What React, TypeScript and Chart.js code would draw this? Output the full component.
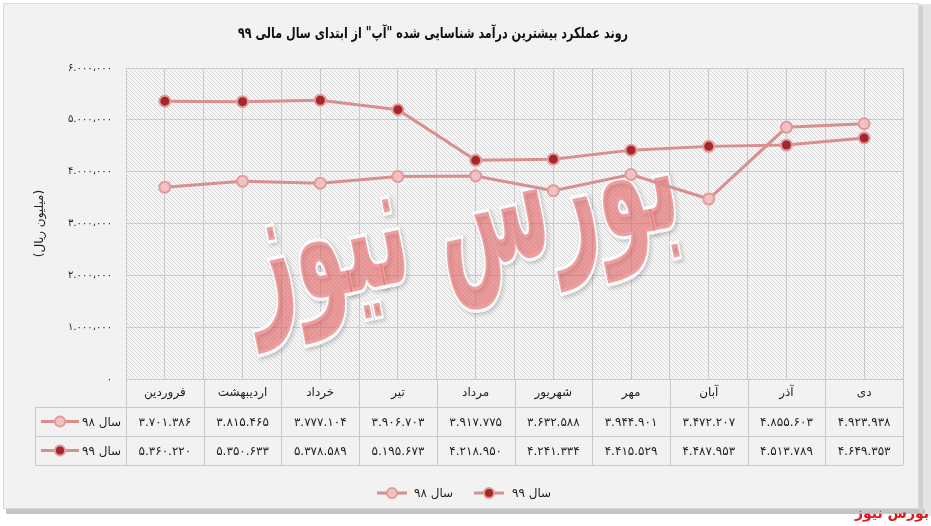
import React, { useEffect, useRef } from 'react';
import { Chart, registerables } from 'chart.js';

Chart.register(...registerables);

const categories = ['فروردین', 'اردیبهشت', 'خرداد', 'تیر', 'مرداد', 'شهریور', 'مهر', 'آبان', 'آذر', 'دی'];
const series98 = [3701386, 3815465, 3777104, 3906703, 3917775, 3632588, 3944901, 3472207, 4855603, 4923938];
const series99 = [5360220, 5350633, 5378589, 5195673, 4218950, 4241334, 4415529, 4487953, 4513789, 4649353];
const seriesLabels = ['سال ۹۸', 'سال ۹۹'];
const yMin = 0;
const yMax = 6000000;
const yStep = 1000000;
const titleText = 'روند عملکرد بیشترین درآمد شناسایی شده "آپ" از ابتدای سال مالی ۹۹';
const yTitleText = '(میلیون ریال)';
const watermarkText = 'بورس نیوز';
const footerText = 'بورس نیوز';

const W = 931;
const H = 526;
const FA = '"DejaVu Sans", sans-serif';
const LINE = '#d98f8f';
const P98_FILL = '#f2c2c2';
const P99_FILL = '#a3272b';
const P_BORDER = '#e19b9b';
const GRID = '#c9c9c9';
const TEXT = '#1f1f1f';

function toFa(s: string): string {
  return s.replace(/[0-9]/g, (d) => '۰۱۲۳۴۵۶۷۸۹'[Number(d)]);
}
function fmtDots(v: number): string {
  return toFa(String(v).replace(/\B(?=(\d{3})+(?!\d))/g, '.'));
}
function fmtTick(v: number): string {
  if (v === 0) return '۰';
  const s = String(v);
  const groups: string[] = [];
  let rest = s;
  while (rest.length > 3) {
    groups.unshift(rest.slice(-3));
    rest = rest.slice(0, -3);
  }
  groups.unshift(rest);
  let out = groups[0];
  for (let i = 1; i < groups.length; i++) out += (i === 1 ? '.' : '،') + groups[i];
  return toFa(out);
}

function drawKey(ctx: CanvasRenderingContext2D, x1: number, x2: number, y: number, fill: string) {
  ctx.save();
  ctx.strokeStyle = LINE;
  ctx.lineWidth = 3;
  ctx.beginPath();
  ctx.moveTo(x1, y);
  ctx.lineTo(x2, y);
  ctx.stroke();
  ctx.beginPath();
  ctx.arc((x1 + x2) / 2, y, 5, 0, Math.PI * 2);
  ctx.fillStyle = fill;
  ctx.fill();
  ctx.lineWidth = 2;
  ctx.strokeStyle = P_BORDER;
  ctx.stroke();
  ctx.restore();
}

const framePlugin = {
  id: 'frame',
  beforeDraw(chart: any) {
    const ctx: CanvasRenderingContext2D = chart.ctx;
    const { left, right, top, bottom } = chart.chartArea;
    ctx.save();
    ctx.fillStyle = '#ffffff';
    ctx.fillRect(0, 0, W, H);
    // right / bottom shadow
    ctx.fillStyle = '#e4e4e4';
    ctx.fillRect(919, 4, 12, 512);
    ctx.fillStyle = '#c4c4c4';
    ctx.fillRect(6, 509, 919, 5);
    ctx.fillStyle = '#d0d0d0';
    ctx.fillRect(919, 6, 4, 508);
    ctx.fillStyle = '#f2f2f2';
    ctx.fillRect(3, 3, 916, 506);
    ctx.strokeStyle = '#dadada';
    ctx.lineWidth = 1;
    ctx.strokeRect(3.5, 3.5, 915, 505);
    // hatched plot background
    const tile = document.createElement('canvas');
    tile.width = 4;
    tile.height = 4;
    const t = tile.getContext('2d')!;
    t.fillStyle = '#f6f6f6';
    t.fillRect(0, 0, 4, 4);
    t.fillStyle = '#d7d7d7';
    for (let i = 0; i < 4; i++) t.fillRect(i, i, 1, 1);
    const pat = ctx.createPattern(tile, 'repeat');
    if (pat) {
      ctx.fillStyle = pat;
      ctx.fillRect(left, top, right - left, bottom - top);
    }
    ctx.restore();
  },
  beforeDatasetsDraw(chart: any) {
    const ctx: CanvasRenderingContext2D = chart.ctx;
    const { left, right, top, bottom } = chart.chartArea;
    ctx.save();
    ctx.translate(left + (right - left) * 0.43, top + (bottom - top) * 0.5);
    ctx.rotate(-0.2);
    ctx.direction = 'rtl';
    ctx.textAlign = 'center';
    ctx.textBaseline = 'middle';
    ctx.font = `bold 100px ${FA}`;
    const w = ctx.measureText(watermarkText).width;
    const sx = 440 / w;
    ctx.scale(sx, sx * 2.1);
    ctx.shadowColor = 'rgba(0,0,0,0.22)';
    ctx.shadowBlur = 4;
    ctx.shadowOffsetX = 2;
    ctx.shadowOffsetY = 2;
    ctx.strokeStyle = 'rgba(255,255,255,0.9)';
    ctx.lineWidth = 4;
    ctx.strokeText(watermarkText, 0, 0);
    ctx.shadowColor = 'transparent';
    ctx.fillStyle = 'rgba(226, 96, 96, 0.6)';
    ctx.fillText(watermarkText, 0, 0);
    ctx.restore();
  },
  afterDraw(chart: any) {
    const ctx: CanvasRenderingContext2D = chart.ctx;
    const xs = chart.scales.x;
    const { right, bottom } = chart.chartArea;
    const tableLeft = 35;
    const row1 = bottom + 28;
    const row2 = row1 + 29;
    const tableBottom = row2 + 29;
    ctx.save();
    // table lines
    ctx.strokeStyle = GRID;
    ctx.lineWidth = 1;
    ctx.beginPath();
    for (let k = 0; k <= categories.length; k++) {
      const x = Math.round(xs.getPixelForValue(k - 0.5)) + 0.5;
      ctx.moveTo(x, bottom);
      ctx.lineTo(x, tableBottom);
    }
    [row1, row2, tableBottom].forEach((y) => {
      ctx.moveTo(tableLeft, Math.round(y) + 0.5);
      ctx.lineTo(right, Math.round(y) + 0.5);
    });
    ctx.moveTo(tableLeft + 0.5, row1);
    ctx.lineTo(tableLeft + 0.5, tableBottom);
    ctx.stroke();

    ctx.fillStyle = TEXT;
    ctx.direction = 'rtl';
    ctx.textAlign = 'center';
    ctx.textBaseline = 'middle';
    ctx.font = `12px ${FA}`;
    categories.forEach((c, i) => {
      ctx.fillText(c, xs.getPixelForValue(i), (bottom + row1) / 2);
    });
    series98.forEach((v, i) => {
      ctx.fillText(fmtDots(v), xs.getPixelForValue(i), (row1 + row2) / 2 + 1);
    });
    series99.forEach((v, i) => {
      ctx.fillText(fmtDots(v), xs.getPixelForValue(i), (row2 + tableBottom) / 2 + 1);
    });
    // row keys
    drawKey(ctx, 41, 79, (row1 + row2) / 2, P98_FILL);
    drawKey(ctx, 41, 79, (row2 + tableBottom) / 2, P99_FILL);
    ctx.fillStyle = TEXT;
    ctx.textAlign = 'left';
    ctx.direction = 'ltr';
    ctx.fillText(seriesLabels[0], 82, (row1 + row2) / 2 + 1);
    ctx.fillText(seriesLabels[1], 82, (row2 + tableBottom) / 2 + 1);

    // legend
    const ly = 493;
    drawKey(ctx, 377, 407, ly, P98_FILL);
    ctx.fillStyle = TEXT;
    ctx.fillText(seriesLabels[0], 414, ly + 1);
    drawKey(ctx, 474, 504, ly, P99_FILL);
    ctx.fillStyle = TEXT;
    ctx.fillText(seriesLabels[1], 512, ly + 1);

    // title (condensed to the reference width)
    ctx.save();
    ctx.direction = 'rtl';
    ctx.textAlign = 'center';
    ctx.font = `bold 15px ${FA}`;
    ctx.fillStyle = '#111';
    const tw = ctx.measureText(titleText).width;
    ctx.translate(433, 34);
    ctx.scale(390 / tw, 1);
    ctx.fillText(titleText, 0, 0);
    ctx.restore();

    // footer brand
    ctx.font = `bold 14px ${FA}`;
    ctx.fillStyle = '#e0191f';
    ctx.textAlign = 'right';
    ctx.direction = 'rtl';
    ctx.fillText(footerText, 929, 514);
    ctx.restore();
  },
};

export default function App() {
  const ref = useRef<HTMLCanvasElement | null>(null);
  useEffect(() => {
    document.body.style.margin = '0';
    if (!ref.current) return;
    const chart = new Chart(ref.current, {
      type: 'line',
      data: {
        datasets: [
          {
            label: seriesLabels[0],
            data: series98.map((v, i) => ({ x: i, y: v })),
            borderColor: LINE,
            borderWidth: 3,
            pointRadius: 5.5,
            pointBorderWidth: 2,
            pointBackgroundColor: P98_FILL,
            pointBorderColor: P_BORDER,
            tension: 0,
          },
          {
            label: seriesLabels[1],
            data: series99.map((v, i) => ({ x: i, y: v })),
            borderColor: LINE,
            borderWidth: 3,
            pointRadius: 5.5,
            pointBorderWidth: 2,
            pointBackgroundColor: P99_FILL,
            pointBorderColor: P_BORDER,
            tension: 0,
          },
        ],
      },
      options: {
        animation: false,
        responsive: false,
        events: [],
        layout: { padding: { top: 68, right: 28, left: 0, bottom: 0 } },
        plugins: {
          legend: { display: false },
          title: { display: false },
          tooltip: { enabled: false },
        },
        scales: {
          x: {
            type: 'linear',
            min: -0.5,
            max: categories.length - 0.5,
            afterBuildTicks: (s: any) => {
              const t: any[] = [];
              for (let k = 0; k <= categories.length * 2; k++) t.push({ value: -0.5 + k * 0.5 });
              s.ticks = t;
            },
            afterFit: (s: any) => {
              s.height = 147;
            },
            ticks: { display: false },
            grid: { color: GRID, drawTicks: false },
            border: { display: false },
          },
          y: {
            min: yMin,
            max: yMax,
            afterFit: (s: any) => {
              s.width = 126;
            },
            ticks: {
              stepSize: yStep,
              padding: 14,
              color: TEXT,
              font: { family: FA, size: 10 },
              callback: (v: any) => fmtTick(Number(v)),
            },
            grid: { color: GRID, drawTicks: false },
            border: { display: false },
            title: {
              display: true,
              text: yTitleText,
              color: TEXT,
              font: { family: FA, size: 12 },
              padding: { top: 33, bottom: 0 },
            },
          },
        },
      },
      plugins: [framePlugin],
    } as any);
    return () => chart.destroy();
  }, []);
  return <canvas ref={ref} width={W} height={H} style={{ display: 'block' }} />;
}
